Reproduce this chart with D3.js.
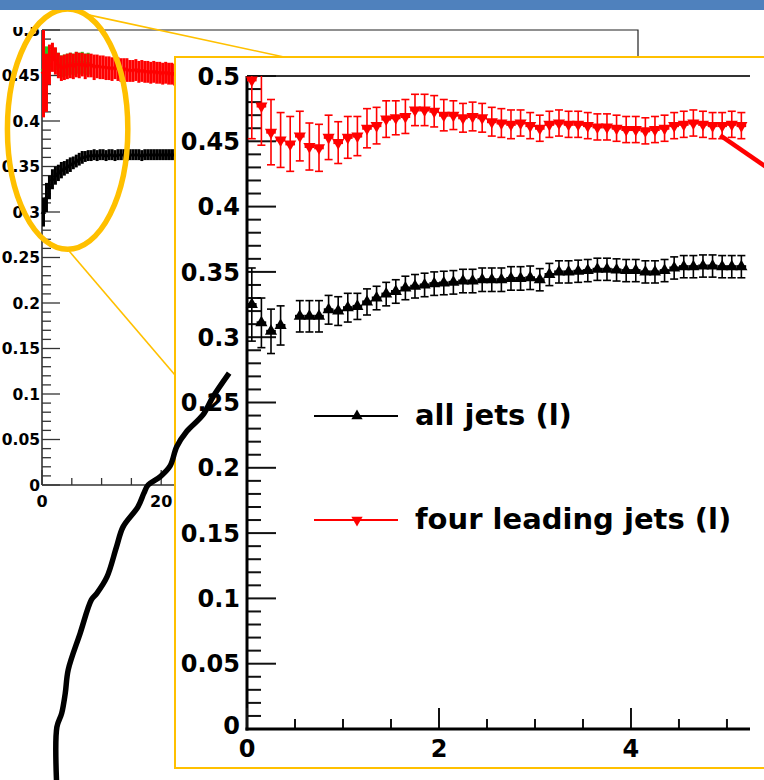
<!DOCTYPE html>
<html>
<head>
<meta charset="utf-8">
<script src="https://cdn.jsdelivr.net/npm/d3@7"></script>
<style>
  html, body { margin: 0; padding: 0; background: #fff; }
  svg { display: block; }
  text { font-family: "DejaVu Sans", sans-serif; font-weight: bold; fill: #000; }
</style>
</head>
<body>
<svg id="chart" width="764" height="780"></svg>
<script>
// ---------- data: zoomed view (x from 0 to ~5.2) ----------
const zoomBins = [0.05,0.15,0.25,0.35,0.45,0.55,0.65,0.75,0.85,0.95,
                  1.05,1.15,1.25,1.35,1.45,1.55,1.65,1.75,1.85,1.95,
                  2.05,2.15,2.25,2.35,2.45,2.55,2.65,2.75,2.85,2.95,
                  3.05,3.15,3.25,3.35,3.45,3.55,3.65,3.75,3.85,3.95,
                  4.05,4.15,4.25,4.35,4.45,4.55,4.65,4.75,4.85,4.95,
                  5.05,5.15];
const zoomFourJets = [0.497,0.477,0.457,0.451,0.448,0.454,0.446,0.445,0.453,0.449,
                      0.453,0.454,0.460,0.462,0.467,0.468,0.469,0.474,0.474,0.473,
                      0.470,0.470,0.468,0.469,0.468,0.465,0.464,0.463,0.464,0.462,
                      0.460,0.463,0.464,0.463,0.463,0.462,0.461,0.461,0.460,0.459,
                      0.459,0.458,0.459,0.460,0.462,0.463,0.464,0.463,0.462,0.462,
                      0.463,0.462];
const zoomFourJetsErr = [0.045,0.030,0.025,0.021,0.021,0.019,0.018,0.018,0.017,0.016,
                         0.016,0.015,0.015,0.014,0.014,0.013,0.013,0.012,0.012,0.012,
                         0.012,0.011,0.011,0.011,0.011,0.011,0.011,0.011,0.010,0.010,
                         0.010,0.010,0.010,0.010,0.010,0.010,0.010,0.010,0.010,0.010,
                         0.010,0.010,0.010,0.010,0.010,0.010,0.010,0.010,0.010,0.010,
                         0.010,0.010];
const zoomAllJets = [0.325,0.311,0.3045,0.309,null,0.316,0.316,0.316,0.321,0.320,
                     0.3226,0.3236,0.327,0.330,0.333,0.335,0.3377,0.339,0.340,0.341,
                     0.3415,0.342,0.343,0.343,0.344,0.344,0.344,0.345,0.345,0.3455,
                     0.344,0.348,0.350,0.350,0.3505,0.351,0.352,0.352,0.3515,0.351,
                     0.351,0.350,0.350,0.351,0.353,0.354,0.354,0.3545,0.3545,0.354,
                     0.354,0.354];
const zoomAllJetsErr = [0.028,0.019,0.017,0.015,null,0.012,0.012,0.012,0.011,0.011,
                        0.011,0.010,0.010,0.009,0.009,0.009,0.009,0.009,0.009,0.009,
                        0.009,0.009,0.009,0.009,0.009,0.009,0.009,0.009,0.009,0.009,
                        0.0085,0.0085,0.0085,0.0085,0.0085,0.0085,0.0085,0.0085,0.0085,0.0085,
                        0.0085,0.0085,0.0085,0.0085,0.0085,0.0085,0.0085,0.0085,0.0085,0.0085,
                        0.0085,0.0085];

// ---------- data: overview (x from 0 to 100, only the start is uncovered) ----------
const overviewBins = [0.25,0.75,1.25,1.75,2.25,2.75,3.25,3.75,4.25,4.75,
                      5.25,5.75,6.25,6.75,7.25,7.75,8.25,8.75,9.25,9.75,
                      10.25,10.75,11.25,11.75,12.25,12.75,13.25,13.75,14.25,14.75,
                      15.25,15.75,16.25,16.75,17.25,17.75,18.25,18.75,19.25,19.75,
                      20.25,20.75,21.25,21.75,22.25,22.75];
const overviewFourJets = [0.452,0.442,0.462,0.470,0.466,0.461,0.458,0.459,0.460,0.461,
                          0.460,0.462,0.461,0.462,0.460,0.461,0.461,0.459,0.460,0.459,
                          0.459,0.458,0.458,0.457,0.458,0.457,0.456,0.457,0.456,0.455,
                          0.455,0.456,0.454,0.455,0.454,0.454,0.453,0.454,0.453,0.453,
                          0.452,0.453,0.452,0.452,0.451,0.452];
const overviewFourJetsErr = [0.048,0.032,0.022,0.016,0.015,0.014,0.014,0.014,0.014,0.014,
                             0.014,0.014,0.014,0.013,0.014,0.013,0.013,0.014,0.013,0.013,
                             0.013,0.013,0.013,0.013,0.012,0.013,0.013,0.012,0.013,0.012,
                             0.012,0.012,0.012,0.012,0.012,0.012,0.012,0.012,0.012,0.012,
                             0.012,0.012,0.012,0.012,0.012,0.012];
const overviewOther = [0.455,0.452,0.466,0.474,0.468,0.463,0.460,0.461,0.462,0.463,
                       0.462,0.464,0.463,0.464,0.462,0.463];
const overviewOtherErr = [0.030,0.030,0.012,0.008,0.012,0.012,0.012,0.012,0.012,0.012,
                          0.012,0.012,0.012,0.012,0.012,0.012];
const overviewAllJets = [0.300,0.316,0.327,0.336,0.340,0.343,0.346,0.348,0.350,0.352,
                         0.354,0.356,0.358,0.360,0.361,0.362,0.362,0.363,0.362,0.363,
                         0.363,0.362,0.363,0.363,0.362,0.363,0.363,0.363,0.362,0.363,
                         0.363,0.363,0.363,0.362,0.363,0.363,0.363,0.363,0.363,0.363,
                         0.363,0.363,0.363,0.363,0.363,0.363];
const overviewAllJetsErr = [0.016,0.016,0.013,0.011,0.010,0.009,0.009,0.008,0.008,0.008,
                            0.007,0.007,0.007,0.007,0.006,0.006,0.006,0.006,0.006,0.006,
                            0.006,0.006,0.006,0.006,0.006,0.006,0.006,0.006,0.006,0.006,
                            0.006,0.006,0.006,0.006,0.006,0.006,0.006,0.006,0.006,0.006,
                            0.006,0.006,0.006,0.006,0.006,0.006];

// ---------- ticks and labels ----------
const yTickValues = [0,0.05,0.1,0.15,0.2,0.25,0.3,0.35,0.4,0.45,0.5];
const yTickLabels = ["0","0.05","0.1","0.15","0.2","0.25","0.3","0.35","0.4","0.45","0.5"];
// only the first two x labels of the overview stay uncovered by the inset
const overviewXTicks = [0,20];
const overviewXLabels = ["0","20"];
const zoomXTicks = [0,2,4];
const zoomXLabels = ["0","2","4"];
const legendLabels = ["all jets (l)", "four leading jets (l)"];

// hand-drawn marks, in the overview chart's own axis units
const sketchStroke = [[31.4,0.123],[28.7,0.097],[27.0,0.077],[24.3,0.059],[22.6,0.042],
                      [21.5,0.021],[19.8,0.009],[17.8,0.000],[17.1,-0.009],[16.1,-0.024],
                      [13.6,-0.046],[12.5,-0.068],[10.9,-0.101],[9.2,-0.119],[8.3,-0.126],
                      [6.4,-0.163],[4.4,-0.203],[3.9,-0.229],[3.3,-0.251],[2.5,-0.266],[2.5,-0.335]];
const highlight = {cx: 4.3, cy: 0.391, rx: 10.1, ry: 0.132};

const RED = "#ff0000", BLACK = "#000000", GREEN = "#22cc22", GOLD = "#ffc000";

const svg = d3.select("#chart");
svg.append("rect").attr("width", 764).attr("height", 780).attr("fill", "#fff");

// ================= overview chart =================
const ov = {left: 42, right: 638, top: 30, bottom: 485};
const ovX = d3.scaleLinear().domain([0, 100]).range([ov.left, ov.right]);
const ovY = d3.scaleLinear().domain([0, 0.5]).range([ov.bottom, ov.top]);

const defs = svg.append("defs");
defs.append("clipPath").attr("id", "ovClip")
  .append("rect").attr("x", 0).attr("y", 27).attr("width", 764).attr("height", 753);
const gOv = svg.append("g").attr("clip-path", "url(#ovClip)");

gOv.append("path")
  .attr("d", `M${ov.left},${ov.top}H${ov.right}V${ov.bottom}`)
  .attr("fill", "none").attr("stroke", "#222").attr("stroke-width", 1.2);

function isMajor(v, step) { return Math.abs(v / step - Math.round(v / step)) < 1e-6; }

// y axis
gOv.append("line").attr("x1", ov.left).attr("x2", ov.left).attr("y1", ov.top).attr("y2", ov.bottom)
  .attr("stroke", "#333").attr("stroke-width", 1.6);
gOv.selectAll(".ovyt").data(ovY.ticks(50)).join("line")
  .attr("x1", ov.left).attr("x2", d => ov.left + (isMajor(d, 0.05) ? 18 : 9))
  .attr("y1", d => ovY(d)).attr("y2", d => ovY(d))
  .attr("stroke", "#333").attr("stroke-width", 1.3);
gOv.selectAll(".ovyl").data(yTickValues).join("text")
  .attr("x", ov.left - 2).attr("y", d => ovY(d)).attr("dy", "0.36em")
  .attr("text-anchor", "end").style("font-size", "15.5px")
  .text((d, i) => yTickLabels[i]);

// x axis
gOv.append("line").attr("x1", ov.left).attr("x2", ov.right).attr("y1", ov.bottom).attr("y2", ov.bottom)
  .attr("stroke", "#333").attr("stroke-width", 1.6);
gOv.selectAll(".ovxt").data(ovX.ticks(20)).join("line")
  .attr("x1", d => ovX(d)).attr("x2", d => ovX(d))
  .attr("y1", ov.bottom).attr("y2", d => ov.bottom - (isMajor(d, 20) ? 15 : 7))
  .attr("stroke", "#333").attr("stroke-width", 1.3);
gOv.selectAll(".ovxl").data(overviewXTicks).join("text")
  .attr("x", d => ovX(d)).attr("y", ov.bottom + 22)
  .attr("text-anchor", "middle").style("font-size", "16px")
  .text((d, i) => overviewXLabels[i]);

function drawSeries(g, xs, ys, bins, vals, errs, color, down, cfg) {
  const [ymin, ymax] = ys.domain();
  const pts = bins.map((b, i) => ({b, v: vals[i], e: errs[i]}))
    .filter(d => d.v !== null && d.v !== undefined);
  const gg = g.append("g");
  gg.selectAll("line.bar").data(pts).join("line").attr("class", "bar")
    .attr("x1", d => xs(d.b)).attr("x2", d => xs(d.b))
    .attr("y1", d => ys(Math.min(d.v + d.e, ymax)))
    .attr("y2", d => ys(Math.max(d.v - d.e, ymin)))
    .attr("stroke", color).attr("stroke-width", cfg.barW);
  if (cfg.cap) {
    const capPts = [];
    pts.forEach(d => {
      if (d.v + d.e <= ymax) capPts.push({b: d.b, y: d.v + d.e});
      capPts.push({b: d.b, y: d.v - d.e});
    });
    gg.selectAll("line.cap").data(capPts).join("line").attr("class", "cap")
      .attr("x1", d => xs(d.b) - cfg.cap).attr("x2", d => xs(d.b) + cfg.cap)
      .attr("y1", d => ys(d.y)).attr("y2", d => ys(d.y))
      .attr("stroke", color).attr("stroke-width", cfg.barW);
  }
  if (cfg.binHalf) {
    gg.selectAll("line.bin").data(pts).join("line").attr("class", "bin")
      .attr("x1", d => xs(Math.max(d.b - cfg.binHalf, 0))).attr("x2", d => xs(d.b + cfg.binHalf))
      .attr("y1", d => ys(d.v)).attr("y2", d => ys(d.v))
      .attr("stroke", color).attr("stroke-width", cfg.binW);
  }
  const sym = d3.symbol().type(d3.symbolTriangle).size(cfg.marker);
  gg.selectAll("path.mk").data(pts).join("path").attr("class", "mk")
    .attr("d", sym)
    .attr("transform", d => `translate(${xs(d.b)},${ys(d.v)})${down ? " rotate(180)" : ""}`)
    .attr("fill", color);
}

const ovCfg = {barW: 3, cap: 0, binHalf: 0, marker: 14};
drawSeries(gOv, ovX, ovY, overviewBins.slice(0, overviewOther.length), overviewOther, overviewOtherErr, GREEN, true, ovCfg);
drawSeries(gOv, ovX, ovY, overviewBins, overviewFourJets, overviewFourJetsErr, RED, true, ovCfg);
drawSeries(gOv, ovX, ovY, overviewBins, overviewAllJets, overviewAllJetsErr, BLACK, false, ovCfg);

// highlight ring around the start of the overview
svg.append("ellipse")
  .attr("cx", ovX(highlight.cx)).attr("cy", ovY(highlight.cy))
  .attr("rx", ovX(highlight.rx) - ovX(0)).attr("ry", ovY(0) - ovY(highlight.ry))
  .attr("fill", "none").attr("stroke", GOLD).attr("stroke-width", 5.5);

// ================= zoomed inset =================
const box = {x: 175, y: 57, w: 620, h: 711};
const zp = {left: 247, right: 750, top: 76, bottom: 729};

// guide lines from the ring to the inset
const ringCx = ovX(highlight.cx), ringCy = ovY(highlight.cy);
const ringRx = ovX(highlight.rx) - ovX(0), ringRy = ovY(0) - ovY(highlight.ry);
const tTop = -1.28, tBot = Math.PI / 2;
svg.append("line")
  .attr("x1", ringCx + ringRx * Math.cos(tTop)).attr("y1", ringCy + ringRy * Math.sin(tTop))
  .attr("x2", box.x + 109).attr("y2", box.y)
  .attr("stroke", GOLD).attr("stroke-width", 1.6);
svg.append("line")
  .attr("x1", ringCx + ringRx * Math.cos(tBot)).attr("y1", ringCy + ringRy * Math.sin(tBot))
  .attr("x2", box.x).attr("y2", box.y + 318)
  .attr("stroke", GOLD).attr("stroke-width", 1.6);

svg.append("rect").attr("x", box.x).attr("y", box.y).attr("width", box.w).attr("height", box.h)
  .attr("fill", "#fff").attr("stroke", GOLD).attr("stroke-width", 2);

const zX = d3.scaleLinear().domain([0, 5.24]).range([zp.left, zp.right]);
const zY = d3.scaleLinear().domain([0, 0.5]).range([zp.bottom, zp.top]);
const gZ = svg.append("g");

// frame top
gZ.append("line").attr("x1", zp.left).attr("x2", zp.right).attr("y1", zp.top).attr("y2", zp.top)
  .attr("stroke", "#333").attr("stroke-width", 2);

// y axis
gZ.selectAll(".zyt").data(zY.ticks(50)).join("line")
  .attr("x1", zp.left).attr("x2", d => zp.left + (isMajor(d, 0.05) ? 29 : 14))
  .attr("y1", d => zY(d)).attr("y2", d => zY(d))
  .attr("stroke", "#111").attr("stroke-width", 2);
gZ.append("line").attr("x1", zp.left).attr("x2", zp.left).attr("y1", zp.top).attr("y2", zp.bottom + 1.5)
  .attr("stroke", "#000").attr("stroke-width", 3);
gZ.selectAll(".zyl").data(yTickValues).join("text")
  .attr("x", zp.left - 7).attr("y", d => zY(d)).attr("dy", d => d === 0 ? "0.2em" : "0.36em")
  .attr("text-anchor", "end").style("font-size", "24px")
  .text((d, i) => yTickLabels[i]);

// x axis
gZ.selectAll(".zxt").data(zX.ticks(10)).join("line")
  .attr("x1", d => zX(d)).attr("x2", d => zX(d))
  .attr("y1", zp.bottom).attr("y2", d => zp.bottom - (isMajor(d, 2) ? 21 : 10))
  .attr("stroke", "#111").attr("stroke-width", 2);
gZ.append("line").attr("x1", zp.left - 1.5).attr("x2", zp.right).attr("y1", zp.bottom).attr("y2", zp.bottom)
  .attr("stroke", "#000").attr("stroke-width", 3);
gZ.selectAll(".zxl").data(zoomXTicks).join("text")
  .attr("x", d => zX(d)).attr("y", zp.bottom + 28)
  .attr("text-anchor", "middle").style("font-size", "24px")
  .text((d, i) => zoomXLabels[i]);

const zCfg = {barW: 1.6, cap: 4, binHalf: 0.05, binW: 3, marker: 64};
drawSeries(gZ, zX, zY, zoomBins, zoomAllJets, zoomAllJetsErr, BLACK, false, zCfg);
drawSeries(gZ, zX, zY, zoomBins, zoomFourJets, zoomFourJetsErr, RED, true, zCfg);

// legend
const legend = gZ.append("g");
const legendRows = [
  {label: legendLabels[0], color: BLACK, down: false, y: 416},
  {label: legendLabels[1], color: RED, down: true, y: 520}
];
legendRows.forEach(r => {
  legend.append("line").attr("x1", 314).attr("x2", 398).attr("y1", r.y).attr("y2", r.y)
    .attr("stroke", r.color).attr("stroke-width", 2);
  legend.append("path").attr("d", d3.symbol().type(d3.symbolTriangle).size(55)())
    .attr("transform", `translate(357,${r.y})${r.down ? " rotate(180)" : ""}`)
    .attr("fill", r.color);
  legend.append("text").attr("x", 415).attr("y", r.y + 9)
    .style("font-size", "29px").text(r.label);
});

// red pointer stroke leaving the four-jet band
svg.append("line")
  .attr("x1", zX(4.93)).attr("y1", zY(0.4545))
  .attr("x2", zX(5.70)).attr("y2", zY(0.4155))
  .attr("stroke", RED).attr("stroke-width", 4.5).attr("stroke-linecap", "butt");

// freehand stroke
svg.append("path")
  .datum(sketchStroke)
  .attr("d", d3.line().x(d => ovX(d[0])).y(d => ovY(d[1])).curve(d3.curveCatmullRom.alpha(0.5)))
  .attr("fill", "none").attr("stroke", "#000").attr("stroke-width", 5.5)
  .attr("stroke-linecap", "butt").attr("stroke-linejoin", "round");

// slide header band
svg.append("rect").attr("x", 0).attr("y", 0).attr("width", 764).attr("height", 10).attr("fill", "#4f81bd");
</script>
</body>
</html>
